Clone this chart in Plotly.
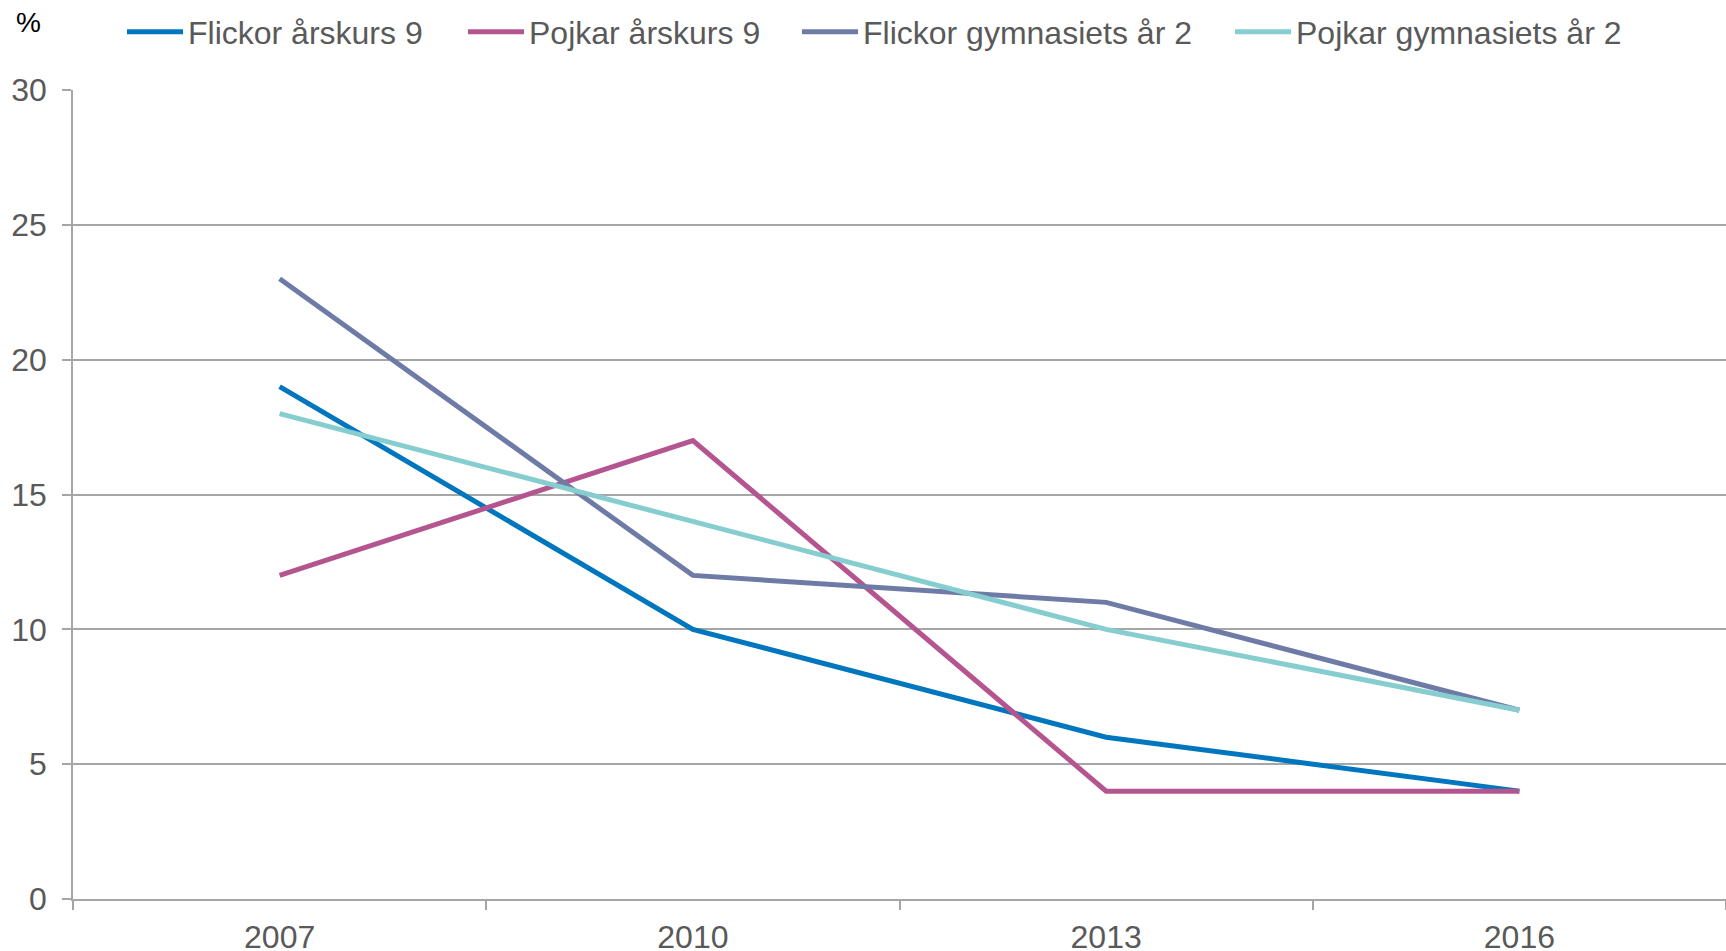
import plotly.graph_objects as go

years = ['2007', '2010', '2013', '2016']

flickor_ak9 = [19, 10, 6, 4]
pojkar_ak9 = [12, 17, 4, 4]
flickor_gy2 = [23, 12, 11, 7]
pojkar_gy2 = [18, 14, 10, 7]

names = ['Flickor årskurs 9', 'Pojkar årskurs 9', 'Flickor gymnasiets år 2', 'Pojkar gymnasiets år 2']
colors = ['#0076BE', '#B5558F', '#6E7BA7', '#86CDCF']
series = [flickor_ak9, pojkar_ak9, flickor_gy2, pojkar_gy2]

W, H = 1726, 951
font = 'Liberation Sans, Arial, sans-serif'
grey = '#A6A6A6'
label_col = '#595959'

# legend item start positions (px), one small legend per series
legend_x = [122, 463, 797, 1230]

fig = go.Figure()
for i in range(4):
    fig.add_trace(go.Scatter(
        x=years, y=series[i], name=names[i], mode='lines',
        line=dict(color=colors[i], width=5),
        showlegend=True,
        legend='legend' if i == 0 else 'legend%d' % (i + 1),
    ))

layout_legends = {}
for i in range(4):
    key = 'legend' if i == 0 else 'legend%d' % (i + 1)
    layout_legends[key] = dict(
        xref='container', yref='container',
        x=legend_x[i] / W, y=1 - 32 / H,
        xanchor='left', yanchor='middle',
        orientation='h', itemwidth=56,
        bgcolor='rgba(0,0,0,0)', borderwidth=0,
        font=dict(family=font, size=32, color=label_col),
    )

fig.update_layout(
    width=W, height=H,
    margin=dict(l=73, r=0, t=90, b=52, autoexpand=False),
    showlegend=True,
    plot_bgcolor='white', paper_bgcolor='white',
    font=dict(family=font, size=32, color=label_col),
    **layout_legends,
    xaxis=dict(
        type='category', range=[-0.5, 3.5], tickson='boundaries',
        showgrid=False, showline=True, linecolor=grey, linewidth=1.5,
        ticks='outside', ticklen=9, tickcolor=grey, tickwidth=1.5,
        tickfont=dict(size=32, color=label_col), ticklabelstandoff=9,
        automargin=False,
    ),
    yaxis=dict(
        range=[0, 30], dtick=5, showgrid=True, gridcolor=grey, gridwidth=1.5,
        showline=True, linecolor=grey, linewidth=1.5, zeroline=False,
        ticks='outside', ticklen=9, tickcolor=grey, tickwidth=1.5,
        tickfont=dict(size=32, color=label_col), ticklabelstandoff=9,
        automargin=False,
    ),
)

fig.add_annotation(
    text='%', xref='paper', yref='paper', x=0, y=1 + (90 - 22) / 809,
    xshift=-73 + 14, xanchor='left', yanchor='middle', showarrow=False,
    font=dict(family=font, size=28, color='black'),
)

fig.write_html('out.html', config={'displayModeBar': False},
               post_script="document.body.style.margin='0px';")
